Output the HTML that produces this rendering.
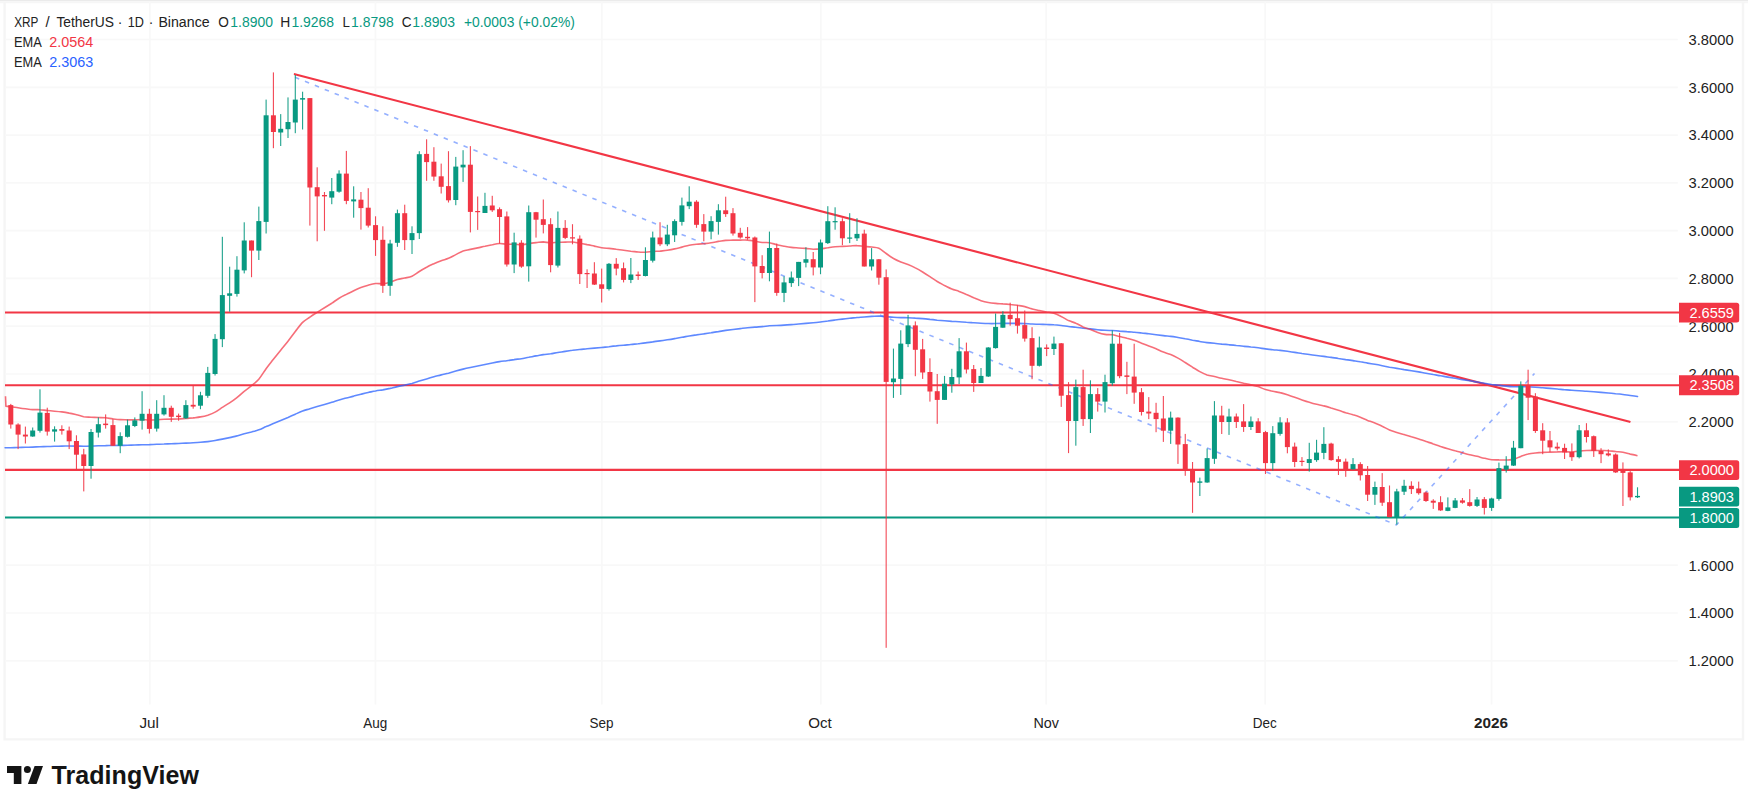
<!DOCTYPE html>
<html><head><meta charset="utf-8"><title>XRP / TetherUS</title>
<style>
html,body{margin:0;padding:0;background:#fff;}
body{width:1748px;height:803px;overflow:hidden;}
svg{display:block;}
text{font-family:"Liberation Sans","DejaVu Sans",sans-serif;}
.ax{font-size:15.3px;fill:#222222;}
.lg{font-size:14.9px;fill:#222222;}
.lb{font-size:14.8px;fill:#fff;}
</style></head><body>
<svg width="1748" height="803" viewBox="0 0 1748 803">
<rect width="1748" height="803" fill="#fff"/>

<rect x="0" y="0" width="1748" height="1.2" fill="#EBEBEB"/><rect x="0" y="1.2" width="1748" height="2" fill="#F6F6F6"/>
<path d="M4.6,2 V739.4 H1743 V2" fill="none" stroke="#F5F5F5" stroke-width="2.4"/>
<g stroke="#F8F8F8" stroke-width="1.7">
<line x1="5" y1="39.5" x2="1677.8" y2="39.5"/>
<line x1="5" y1="87.3" x2="1677.8" y2="87.3"/>
<line x1="5" y1="135.1" x2="1677.8" y2="135.1"/>
<line x1="5" y1="182.9" x2="1677.8" y2="182.9"/>
<line x1="5" y1="230.7" x2="1677.8" y2="230.7"/>
<line x1="5" y1="278.4" x2="1677.8" y2="278.4"/>
<line x1="5" y1="326.2" x2="1677.8" y2="326.2"/>
<line x1="5" y1="374.0" x2="1677.8" y2="374.0"/>
<line x1="5" y1="421.8" x2="1677.8" y2="421.8"/>
<line x1="5" y1="469.6" x2="1677.8" y2="469.6"/>
<line x1="5" y1="517.4" x2="1677.8" y2="517.4"/>
<line x1="5" y1="565.2" x2="1677.8" y2="565.2"/>
<line x1="5" y1="613.0" x2="1677.8" y2="613.0"/>
<line x1="5" y1="660.8" x2="1677.8" y2="660.8"/>
<line x1="149.8" y1="2" x2="149.8" y2="704.5"/>
<line x1="375.4" y1="2" x2="375.4" y2="704.5"/>
<line x1="601.8" y1="2" x2="601.8" y2="704.5"/>
<line x1="820.8" y1="2" x2="820.8" y2="704.5"/>
<line x1="1046.2" y1="2" x2="1046.2" y2="704.5"/>
<line x1="1265.2" y1="2" x2="1265.2" y2="704.5"/>
<line x1="1491.6" y1="2" x2="1491.6" y2="704.5"/>
</g>
<line x1="5" y1="312.50" x2="1679.5" y2="312.50" stroke="#F23645" stroke-width="2.1"/>
<line x1="5" y1="385.25" x2="1679.5" y2="385.25" stroke="#F23645" stroke-width="2.1"/>
<line x1="5" y1="469.90" x2="1679.5" y2="469.90" stroke="#F23645" stroke-width="2.1"/>
<line x1="5" y1="517.45" x2="1679.5" y2="517.45" stroke="#089981" stroke-width="2.1"/>
<path d="M295.0,77.3 L1396.4,524.9 L1534.5,373.5" fill="none" stroke="#2962FF" stroke-width="1.6" stroke-dasharray="4.5 6.2" opacity="0.5"/>
<line x1="294.8" y1="74.2" x2="1629.6" y2="421.8" stroke="#F23645" stroke-width="2.15" stroke-linecap="round"/>
<path d="M5.1,447.8 C6.0,447.8 8.6,447.7 10.8,447.7 C13.0,447.6 15.7,447.6 18.1,447.5 C20.5,447.4 23.0,447.4 25.4,447.3 C27.8,447.3 30.3,447.2 32.7,447.1 C35.1,447.0 37.5,446.8 40.0,446.7 C42.4,446.6 44.8,446.6 47.3,446.5 C49.7,446.5 52.1,446.4 54.6,446.3 C57.0,446.2 59.4,446.2 61.9,446.1 C64.3,446.1 66.7,446.0 69.2,446.0 C71.6,446.0 74.0,446.0 76.5,446.1 C78.9,446.1 81.3,446.2 83.7,446.2 C86.2,446.2 88.6,446.1 91.0,446.0 C93.5,446.0 95.9,445.9 98.3,445.8 C100.8,445.7 103.2,445.6 105.6,445.6 C108.1,445.5 110.5,445.6 112.9,445.5 C115.4,445.5 117.8,445.5 120.2,445.4 C122.7,445.4 125.1,445.3 127.5,445.3 C129.9,445.2 132.4,445.1 134.8,445.0 C137.2,444.9 139.7,444.8 142.1,444.7 C144.5,444.6 147.0,444.6 149.4,444.6 C151.8,444.5 154.3,444.4 156.7,444.3 C159.1,444.2 161.6,444.0 164.0,444.0 C166.4,443.9 168.9,443.8 171.3,443.7 C173.7,443.6 176.1,443.6 178.6,443.5 C181.0,443.4 183.4,443.2 185.9,443.1 C188.3,443.0 190.7,442.9 193.2,442.7 C195.6,442.6 198.0,442.5 200.5,442.3 C202.9,442.1 205.3,441.9 207.8,441.6 C210.2,441.3 212.6,441.0 215.1,440.5 C217.5,440.1 219.9,439.6 222.3,439.1 C224.8,438.6 227.2,438.1 229.6,437.6 C232.1,437.0 234.5,436.5 236.9,435.9 C239.4,435.2 241.8,434.5 244.2,433.8 C246.7,433.2 249.1,432.6 251.5,432.0 C254.0,431.3 256.4,430.7 258.8,429.8 C261.3,428.9 263.7,427.6 266.1,426.6 C268.5,425.5 271.0,424.5 273.4,423.5 C275.8,422.5 278.3,421.5 280.7,420.5 C283.1,419.5 285.6,418.5 288.0,417.5 C290.4,416.4 292.9,415.3 295.3,414.2 C297.7,413.1 300.2,411.9 302.6,411.0 C305.0,410.1 307.5,409.5 309.9,408.7 C312.3,408.0 314.7,407.3 317.2,406.6 C319.6,405.9 322.0,405.2 324.5,404.5 C326.9,403.8 329.3,403.1 331.8,402.3 C334.2,401.6 336.6,400.7 339.1,400.0 C341.5,399.3 343.9,398.7 346.4,398.0 C348.8,397.4 351.2,396.7 353.7,396.1 C356.1,395.4 358.5,394.8 360.9,394.2 C363.4,393.6 365.8,393.0 368.2,392.5 C370.7,392.0 373.1,391.4 375.5,391.0 C378.0,390.5 380.4,390.3 382.8,389.9 C385.3,389.4 387.7,388.9 390.1,388.4 C392.6,387.8 395.0,387.1 397.4,386.6 C399.9,386.0 402.3,385.6 404.7,385.1 C407.1,384.5 409.6,384.1 412.0,383.5 C414.4,382.8 416.9,381.9 419.3,381.1 C421.7,380.4 424.2,379.6 426.6,378.9 C429.0,378.2 431.5,377.5 433.9,376.8 C436.3,376.2 438.8,375.5 441.2,374.9 C443.6,374.3 446.1,373.8 448.5,373.2 C450.9,372.5 453.3,371.8 455.8,371.1 C458.2,370.4 460.6,369.7 463.1,369.1 C465.5,368.5 467.9,368.0 470.4,367.5 C472.8,367.0 475.2,366.5 477.7,366.0 C480.1,365.5 482.5,365.0 485.0,364.5 C487.4,364.0 489.8,363.5 492.3,363.0 C494.7,362.5 497.1,362.0 499.5,361.6 C502.0,361.2 504.4,361.0 506.8,360.7 C509.3,360.4 511.7,359.9 514.1,359.6 C516.6,359.2 519.0,359.1 521.4,358.7 C523.9,358.3 526.3,357.7 528.7,357.3 C531.2,356.8 533.6,356.4 536.0,355.9 C538.4,355.5 540.9,355.0 543.3,354.6 C545.7,354.3 548.2,354.1 550.6,353.8 C553.0,353.4 555.5,352.9 557.9,352.5 C560.3,352.1 562.8,351.8 565.2,351.4 C567.6,351.0 570.1,350.6 572.5,350.3 C574.9,349.9 577.4,349.7 579.8,349.5 C582.2,349.2 584.6,349.0 587.1,348.7 C589.5,348.5 591.9,348.3 594.4,348.1 C596.8,347.9 599.2,347.7 601.7,347.5 C604.1,347.3 606.5,346.9 609.0,346.7 C611.4,346.4 613.8,346.1 616.3,345.9 C618.7,345.6 621.1,345.4 623.6,345.2 C626.0,345.0 628.4,344.7 630.8,344.5 C633.3,344.3 635.7,344.0 638.1,343.8 C640.6,343.5 643.0,343.3 645.4,342.9 C647.9,342.6 650.3,342.2 652.7,341.9 C655.2,341.5 657.6,341.2 660.0,340.9 C662.5,340.6 664.9,340.2 667.3,339.8 C669.8,339.5 672.2,339.1 674.6,338.6 C677.0,338.2 679.5,337.8 681.9,337.3 C684.3,336.9 686.8,336.4 689.2,336.0 C691.6,335.6 694.1,335.2 696.5,334.9 C698.9,334.5 701.4,334.2 703.8,333.9 C706.2,333.5 708.7,333.1 711.1,332.8 C713.5,332.4 716.0,331.9 718.4,331.6 C720.8,331.2 723.2,330.8 725.7,330.4 C728.1,330.1 730.5,329.8 733.0,329.5 C735.4,329.2 737.8,328.9 740.3,328.6 C742.7,328.3 745.1,327.9 747.6,327.7 C750.0,327.5 752.4,327.3 754.9,327.1 C757.3,326.9 759.7,326.8 762.2,326.6 C764.6,326.4 767.0,326.0 769.4,325.8 C771.9,325.7 774.3,325.6 776.7,325.5 C779.2,325.4 781.6,325.3 784.0,325.1 C786.5,325.0 788.9,324.8 791.3,324.6 C793.8,324.5 796.2,324.2 798.6,324.0 C801.1,323.8 803.5,323.6 805.9,323.4 C808.4,323.2 810.8,323.0 813.2,322.8 C815.6,322.6 818.1,322.3 820.5,322.0 C822.9,321.7 825.4,321.3 827.8,321.0 C830.2,320.6 832.7,320.3 835.1,320.0 C837.5,319.7 840.0,319.4 842.4,319.1 C844.8,318.9 847.3,318.6 849.7,318.3 C852.1,318.1 854.6,317.7 857.0,317.5 C859.4,317.3 861.8,317.2 864.3,317.0 C866.7,316.8 869.1,316.6 871.6,316.4 C874.0,316.3 876.4,316.0 878.9,316.0 C881.3,316.1 883.7,316.5 886.2,316.7 C888.6,316.9 891.0,317.2 893.5,317.3 C895.9,317.5 898.3,317.6 900.8,317.6 C903.2,317.7 905.6,317.6 908.0,317.7 C910.5,317.8 912.9,317.9 915.3,318.1 C917.8,318.2 920.2,318.4 922.6,318.6 C925.1,318.8 927.5,319.1 929.9,319.4 C932.4,319.6 934.8,319.9 937.2,320.2 C939.7,320.4 942.1,320.6 944.5,320.8 C947.0,321.0 949.4,321.2 951.8,321.4 C954.2,321.5 956.7,321.6 959.1,321.7 C961.5,321.8 964.0,322.0 966.4,322.2 C968.8,322.3 971.3,322.6 973.7,322.8 C976.1,323.0 978.6,323.2 981.0,323.3 C983.4,323.4 985.9,323.5 988.3,323.5 C990.7,323.6 993.2,323.6 995.6,323.5 C998.0,323.5 1000.4,323.5 1002.9,323.4 C1005.3,323.4 1007.7,323.4 1010.2,323.4 C1012.6,323.4 1015.0,323.4 1017.5,323.4 C1019.9,323.4 1022.3,323.5 1024.8,323.6 C1027.2,323.7 1029.6,323.9 1032.1,324.0 C1034.5,324.1 1036.9,324.2 1039.4,324.2 C1041.8,324.3 1044.2,324.4 1046.6,324.5 C1049.1,324.6 1051.5,324.6 1053.9,324.8 C1056.4,324.9 1058.8,325.2 1061.2,325.5 C1063.7,325.8 1066.1,326.2 1068.5,326.5 C1071.0,326.8 1073.4,326.9 1075.8,327.2 C1078.3,327.5 1080.7,327.9 1083.1,328.2 C1085.6,328.5 1088.0,328.7 1090.4,328.9 C1092.8,329.2 1095.3,329.5 1097.7,329.7 C1100.1,330.0 1102.6,330.2 1105.0,330.3 C1107.4,330.5 1109.9,330.4 1112.3,330.5 C1114.7,330.7 1117.2,330.9 1119.6,331.1 C1122.0,331.2 1124.5,331.4 1126.9,331.6 C1129.3,331.7 1131.8,332.0 1134.2,332.2 C1136.6,332.4 1139.0,332.7 1141.5,333.0 C1143.9,333.3 1146.3,333.5 1148.8,333.8 C1151.2,334.1 1153.6,334.4 1156.1,334.7 C1158.5,335.0 1160.9,335.3 1163.4,335.6 C1165.8,335.9 1168.2,336.1 1170.7,336.4 C1173.1,336.7 1175.5,337.1 1178.0,337.5 C1180.4,337.9 1182.8,338.3 1185.2,338.8 C1187.7,339.2 1190.1,339.7 1192.5,340.2 C1195.0,340.6 1197.4,341.1 1199.8,341.5 C1202.3,341.9 1204.7,342.3 1207.1,342.6 C1209.6,342.9 1212.0,343.1 1214.4,343.3 C1216.9,343.6 1219.3,343.8 1221.7,344.1 C1224.2,344.3 1226.6,344.5 1229.0,344.8 C1231.4,345.0 1233.9,345.2 1236.3,345.5 C1238.7,345.7 1241.2,346.0 1243.6,346.3 C1246.0,346.5 1248.5,346.7 1250.9,347.0 C1253.3,347.2 1255.8,347.5 1258.2,347.8 C1260.6,348.1 1263.1,348.6 1265.5,348.9 C1267.9,349.2 1270.4,349.5 1272.8,349.7 C1275.2,350.0 1277.6,350.1 1280.1,350.4 C1282.5,350.7 1284.9,351.0 1287.4,351.3 C1289.8,351.7 1292.2,352.1 1294.7,352.4 C1297.1,352.8 1299.5,353.1 1302.0,353.5 C1304.4,353.8 1306.8,354.2 1309.3,354.5 C1311.7,354.9 1314.1,355.2 1316.6,355.5 C1319.0,355.8 1321.4,356.1 1323.8,356.4 C1326.3,356.7 1328.7,357.1 1331.1,357.4 C1333.6,357.8 1336.0,358.1 1338.4,358.5 C1340.9,358.8 1343.3,359.2 1345.7,359.6 C1348.2,359.9 1350.6,360.2 1353.0,360.6 C1355.5,361.0 1357.9,361.3 1360.3,361.8 C1362.8,362.2 1365.2,362.7 1367.6,363.1 C1370.0,363.5 1372.5,363.9 1374.9,364.3 C1377.3,364.7 1379.8,365.2 1382.2,365.7 C1384.6,366.2 1387.1,366.7 1389.5,367.2 C1391.9,367.6 1394.4,368.0 1396.8,368.4 C1399.2,368.8 1401.7,369.2 1404.1,369.6 C1406.5,369.9 1409.0,370.3 1411.4,370.7 C1413.8,371.1 1416.2,371.5 1418.7,371.9 C1421.1,372.3 1423.5,372.8 1426.0,373.2 C1428.4,373.6 1430.8,374.0 1433.3,374.5 C1435.7,374.9 1438.1,375.4 1440.6,375.8 C1443.0,376.2 1445.4,376.7 1447.9,377.1 C1450.3,377.5 1452.7,377.9 1455.2,378.3 C1457.6,378.7 1460.0,379.2 1462.4,379.6 C1464.9,380.0 1467.3,380.4 1469.7,380.8 C1472.2,381.3 1474.6,381.6 1477.0,382.0 C1479.5,382.4 1481.9,382.9 1484.3,383.3 C1486.8,383.7 1489.2,384.1 1491.6,384.5 C1494.1,384.8 1496.5,385.0 1498.9,385.3 C1501.4,385.6 1503.8,385.9 1506.2,386.1 C1508.6,386.4 1511.1,386.6 1513.5,386.7 C1515.9,386.8 1518.4,386.7 1520.8,386.7 C1523.2,386.8 1525.7,386.8 1528.1,386.8 C1530.5,386.9 1533.0,387.1 1535.4,387.3 C1537.8,387.5 1540.3,387.6 1542.7,387.8 C1545.1,388.0 1547.6,388.2 1550.0,388.4 C1552.4,388.6 1554.8,388.8 1557.3,389.0 C1559.7,389.2 1562.1,389.5 1564.6,389.7 C1567.0,389.9 1569.4,390.2 1571.9,390.3 C1574.3,390.5 1576.7,390.6 1579.2,390.7 C1581.6,390.9 1584.0,391.0 1586.5,391.2 C1588.9,391.4 1591.3,391.6 1593.7,391.8 C1596.2,392.0 1598.6,392.2 1601.0,392.4 C1603.5,392.6 1605.9,392.8 1608.3,393.0 C1610.8,393.2 1613.2,393.5 1615.6,393.8 C1618.1,394.0 1620.5,394.2 1622.9,394.5 C1625.4,394.8 1627.8,395.2 1630.2,395.5 C1632.7,395.8 1636.3,396.3 1637.5,396.5" fill="none" stroke="#2962FF" stroke-width="1.6" stroke-linejoin="round" stroke-linecap="round" opacity="0.75"/>
<path d="M5.5,396.3 L5.9,406.3 C6.7,406.4 8.8,406.4 10.8,406.7 C12.8,406.9 15.7,407.4 18.1,407.7 C20.5,408.1 23.0,408.5 25.4,408.8 C27.8,409.1 30.3,409.5 32.7,409.6 C35.1,409.8 37.5,409.5 40.0,409.7 C42.4,409.8 44.8,410.3 47.3,410.5 C49.7,410.8 52.1,411.0 54.6,411.2 C57.0,411.4 59.4,411.6 61.9,411.9 C64.3,412.2 66.7,412.6 69.2,413.1 C71.6,413.5 74.0,414.1 76.5,414.7 C78.9,415.3 81.3,416.2 83.7,416.7 C86.2,417.1 88.6,417.1 91.0,417.3 C93.5,417.4 95.9,417.4 98.3,417.5 C100.8,417.6 103.2,417.6 105.6,417.8 C108.1,418.1 110.5,418.6 112.9,418.9 C115.4,419.2 117.8,419.5 120.2,419.6 C122.7,419.8 125.1,419.8 127.5,419.9 C129.9,419.9 132.4,419.9 134.8,419.9 C137.2,419.8 139.7,419.6 142.1,419.6 C144.5,419.7 147.0,420.0 149.4,420.0 C151.8,420.0 154.3,419.9 156.7,419.7 C159.1,419.6 161.6,419.3 164.0,419.2 C166.4,419.1 168.9,419.1 171.3,419.1 C173.7,419.1 176.1,419.1 178.6,419.0 C181.0,418.9 183.4,418.6 185.9,418.4 C188.3,418.2 190.7,418.1 193.2,417.9 C195.6,417.6 198.0,417.4 200.5,416.9 C202.9,416.5 205.3,416.0 207.8,415.2 C210.2,414.3 212.6,413.4 215.1,412.1 C217.5,410.8 219.9,409.0 222.3,407.4 C224.8,405.9 227.2,404.5 229.6,402.9 C232.1,401.3 234.5,399.5 236.9,397.6 C239.4,395.7 241.8,393.3 244.2,391.3 C246.7,389.4 249.1,387.8 251.5,385.7 C254.0,383.7 256.4,382.0 258.8,379.2 C261.3,376.3 263.7,372.0 266.1,368.7 C268.5,365.4 271.0,362.4 273.4,359.3 C275.8,356.3 278.3,353.2 280.7,350.2 C283.1,347.2 285.6,344.3 288.0,341.2 C290.4,338.1 292.9,334.8 295.3,331.6 C297.7,328.5 300.2,324.8 302.6,322.4 C305.0,320.0 307.5,318.8 309.9,317.1 C312.3,315.4 314.7,313.9 317.2,312.3 C319.6,310.8 322.0,309.3 324.5,307.8 C326.9,306.3 329.3,304.8 331.8,303.2 C334.2,301.6 336.6,299.7 339.1,298.2 C341.5,296.7 343.9,295.6 346.4,294.4 C348.8,293.2 351.2,291.9 353.7,290.7 C356.1,289.6 358.5,288.5 360.9,287.6 C363.4,286.6 365.8,285.9 368.2,285.2 C370.7,284.5 373.1,283.8 375.5,283.5 C378.0,283.2 380.4,283.9 382.8,283.7 C385.3,283.4 387.7,282.9 390.1,282.2 C392.6,281.5 395.0,280.2 397.4,279.5 C399.9,278.8 402.3,278.6 404.7,278.0 C407.1,277.5 409.6,277.4 412.0,276.3 C414.4,275.2 416.9,273.0 419.3,271.5 C421.7,270.0 424.2,268.6 426.6,267.3 C429.0,265.9 431.5,264.8 433.9,263.7 C436.3,262.6 438.8,261.6 441.2,260.7 C443.6,259.8 446.1,259.3 448.5,258.3 C450.9,257.3 453.3,255.8 455.8,254.6 C458.2,253.4 460.6,251.9 463.1,251.0 C465.5,250.2 467.9,250.0 470.4,249.4 C472.8,248.9 475.2,248.4 477.7,247.9 C480.1,247.4 482.5,246.7 485.0,246.2 C487.4,245.6 489.8,245.1 492.3,244.7 C494.7,244.2 497.1,243.6 499.5,243.5 C502.0,243.4 504.4,244.2 506.8,244.3 C509.3,244.4 511.7,244.0 514.1,244.1 C516.6,244.2 519.0,245.0 521.4,244.9 C523.9,244.8 526.3,244.0 528.7,243.6 C531.2,243.2 533.6,242.9 536.0,242.6 C538.4,242.4 540.9,241.9 543.3,241.9 C545.7,242.0 548.2,242.8 550.6,242.8 C553.0,242.9 555.5,242.4 557.9,242.3 C560.3,242.2 562.8,242.2 565.2,242.1 C567.6,242.1 570.1,241.8 572.5,242.0 C574.9,242.2 577.4,242.9 579.8,243.3 C582.2,243.7 584.6,244.1 587.1,244.6 C589.5,245.0 591.9,245.6 594.4,246.1 C596.8,246.7 599.2,247.4 601.7,247.8 C604.1,248.2 606.5,248.2 609.0,248.4 C611.4,248.6 613.8,248.8 616.3,249.2 C618.7,249.5 621.1,250.0 623.6,250.3 C626.0,250.6 628.4,250.9 630.8,251.2 C633.3,251.4 635.7,251.8 638.1,252.0 C640.6,252.2 643.0,252.3 645.4,252.2 C647.9,252.1 650.3,251.7 652.7,251.5 C655.2,251.3 657.6,251.3 660.0,251.1 C662.5,250.8 664.9,250.6 667.3,250.2 C669.8,249.9 672.2,249.5 674.6,248.9 C677.0,248.4 679.5,247.7 681.9,247.1 C684.3,246.5 686.8,245.7 689.2,245.2 C691.6,244.7 694.1,244.5 696.5,244.3 C698.9,244.0 701.4,243.9 703.8,243.7 C706.2,243.4 708.7,243.1 711.1,242.7 C713.5,242.4 716.0,241.8 718.4,241.4 C720.8,241.1 723.2,240.6 725.7,240.4 C728.1,240.2 730.5,240.2 733.0,240.1 C735.4,240.1 737.8,240.1 740.3,240.1 C742.7,240.1 745.1,239.9 747.6,240.1 C750.0,240.2 752.4,240.8 754.9,241.2 C757.3,241.6 759.7,242.2 762.2,242.5 C764.6,242.7 767.0,242.3 769.4,242.7 C771.9,243.1 774.3,244.1 776.7,244.7 C779.2,245.3 781.6,245.8 784.0,246.2 C786.5,246.7 788.9,247.2 791.3,247.4 C793.8,247.7 796.2,247.8 798.6,248.0 C801.1,248.2 803.5,248.2 805.9,248.4 C808.4,248.6 810.8,249.1 813.2,249.2 C815.6,249.2 818.1,249.1 820.5,248.9 C822.9,248.6 825.4,248.1 827.8,247.8 C830.2,247.4 832.7,246.9 835.1,246.7 C837.5,246.5 840.0,246.5 842.4,246.4 C844.8,246.3 847.3,246.2 849.7,246.0 C852.1,245.9 854.6,245.5 857.0,245.6 C859.4,245.6 861.8,246.2 864.3,246.4 C866.7,246.6 869.1,246.7 871.6,247.0 C874.0,247.3 876.4,247.1 878.9,248.2 C881.3,249.3 883.7,251.8 886.2,253.5 C888.6,255.3 891.0,257.1 893.5,258.5 C895.9,259.9 898.3,260.9 900.8,261.9 C903.2,262.9 905.6,263.5 908.0,264.5 C910.5,265.5 912.9,266.6 915.3,267.9 C917.8,269.1 920.2,270.5 922.6,272.0 C925.1,273.5 927.5,275.1 929.9,276.7 C932.4,278.3 934.8,280.0 937.2,281.5 C939.7,283.0 942.1,284.2 944.5,285.5 C947.0,286.7 949.4,288.0 951.8,289.0 C954.2,290.0 956.7,290.5 959.1,291.4 C961.5,292.3 964.0,293.3 966.4,294.4 C968.8,295.4 971.3,296.7 973.7,297.8 C976.1,298.8 978.6,300.0 981.0,300.7 C983.4,301.5 985.9,302.1 988.3,302.5 C990.7,303.0 993.2,303.2 995.6,303.4 C998.0,303.7 1000.4,303.7 1002.9,303.9 C1005.3,304.0 1007.7,304.2 1010.2,304.5 C1012.6,304.7 1015.0,304.9 1017.5,305.3 C1019.9,305.7 1022.3,306.0 1024.8,306.6 C1027.2,307.2 1029.6,308.3 1032.1,308.9 C1034.5,309.6 1036.9,310.0 1039.4,310.5 C1041.8,311.0 1044.2,311.5 1046.6,312.0 C1049.1,312.4 1051.5,312.5 1053.9,313.2 C1056.4,314.0 1058.8,315.2 1061.2,316.5 C1063.7,317.7 1066.1,319.4 1068.5,320.6 C1071.0,321.7 1073.4,322.1 1075.8,323.2 C1078.3,324.2 1080.7,325.9 1083.1,327.0 C1085.6,328.0 1088.0,328.7 1090.4,329.6 C1092.8,330.5 1095.3,331.7 1097.7,332.5 C1100.1,333.3 1102.6,334.0 1105.0,334.4 C1107.4,334.8 1109.9,334.5 1112.3,334.8 C1114.7,335.2 1117.2,336.0 1119.6,336.5 C1122.0,337.1 1124.5,337.5 1126.9,338.2 C1129.3,338.8 1131.8,339.5 1134.2,340.3 C1136.6,341.2 1139.0,342.2 1141.5,343.2 C1143.9,344.1 1146.3,345.0 1148.8,346.0 C1151.2,346.9 1153.6,347.8 1156.1,348.8 C1158.5,349.9 1160.9,351.1 1163.4,352.1 C1165.8,353.0 1168.2,353.6 1170.7,354.6 C1173.1,355.6 1175.5,356.8 1178.0,358.1 C1180.4,359.4 1182.8,361.0 1185.2,362.5 C1187.7,364.0 1190.1,365.6 1192.5,367.2 C1195.0,368.7 1197.4,370.3 1199.8,371.6 C1202.3,372.9 1204.7,374.1 1207.1,375.0 C1209.6,375.8 1212.0,376.0 1214.4,376.5 C1216.9,377.1 1219.3,377.8 1221.7,378.3 C1224.2,378.9 1226.6,379.3 1229.0,379.8 C1231.4,380.3 1233.9,380.9 1236.3,381.5 C1238.7,382.0 1241.2,382.7 1243.6,383.3 C1246.0,383.8 1248.5,384.2 1250.9,384.8 C1253.3,385.3 1255.8,385.8 1258.2,386.6 C1260.6,387.5 1263.1,388.9 1265.5,389.6 C1267.9,390.4 1270.4,390.9 1272.8,391.3 C1275.2,391.8 1277.6,392.0 1280.1,392.6 C1282.5,393.1 1284.9,393.9 1287.4,394.7 C1289.8,395.5 1292.2,396.5 1294.7,397.3 C1297.1,398.2 1299.5,399.1 1302.0,399.9 C1304.4,400.7 1306.8,401.5 1309.3,402.2 C1311.7,403.0 1314.1,403.7 1316.6,404.3 C1319.0,404.9 1321.4,405.2 1323.8,405.9 C1326.3,406.5 1328.7,407.3 1331.1,408.1 C1333.6,408.8 1336.0,409.5 1338.4,410.2 C1340.9,411.0 1343.3,411.9 1345.7,412.7 C1348.2,413.4 1350.6,414.0 1353.0,414.8 C1355.5,415.5 1357.9,416.3 1360.3,417.2 C1362.8,418.2 1365.2,419.4 1367.6,420.4 C1370.0,421.3 1372.5,422.1 1374.9,423.1 C1377.3,424.1 1379.8,425.1 1382.2,426.3 C1384.6,427.4 1387.1,428.9 1389.5,429.9 C1391.9,431.0 1394.4,431.6 1396.8,432.4 C1399.2,433.2 1401.7,433.9 1404.1,434.6 C1406.5,435.3 1409.0,436.0 1411.4,436.8 C1413.8,437.5 1416.2,438.2 1418.7,439.0 C1421.1,439.8 1423.5,440.7 1426.0,441.5 C1428.4,442.3 1430.8,443.0 1433.3,443.9 C1435.7,444.7 1438.1,445.6 1440.6,446.5 C1443.0,447.3 1445.4,448.1 1447.9,448.8 C1450.3,449.5 1452.7,450.1 1455.2,450.8 C1457.6,451.4 1460.0,452.1 1462.4,452.7 C1464.9,453.4 1467.3,454.1 1469.7,454.7 C1472.2,455.3 1474.6,455.7 1477.0,456.3 C1479.5,456.9 1481.9,457.7 1484.3,458.2 C1486.8,458.8 1489.2,459.4 1491.6,459.7 C1494.1,459.9 1496.5,459.8 1498.9,459.9 C1501.4,459.9 1503.8,460.0 1506.2,460.0 C1508.6,459.9 1511.1,460.0 1513.5,459.4 C1515.9,458.8 1518.4,457.3 1520.8,456.4 C1523.2,455.5 1525.7,454.5 1528.1,454.0 C1530.5,453.4 1533.0,453.2 1535.4,453.0 C1537.8,452.7 1540.3,452.5 1542.7,452.4 C1545.1,452.2 1547.6,452.2 1550.0,452.1 C1552.4,452.0 1554.8,451.9 1557.3,451.9 C1559.7,451.8 1562.1,451.8 1564.6,451.8 C1567.0,451.8 1569.4,452.1 1571.9,452.0 C1574.3,451.8 1576.7,451.3 1579.2,451.1 C1581.6,450.8 1584.0,450.6 1586.5,450.5 C1588.9,450.4 1591.3,450.4 1593.7,450.4 C1596.2,450.4 1598.6,450.5 1601.0,450.5 C1603.5,450.6 1605.9,450.5 1608.3,450.7 C1610.8,450.9 1613.2,451.3 1615.6,451.5 C1618.1,451.8 1620.5,451.9 1622.9,452.3 C1625.4,452.8 1627.8,453.5 1630.2,454.1 C1632.7,454.6 1636.3,455.4 1637.5,455.7" fill="none" stroke="#F23645" stroke-width="1.6" stroke-linejoin="round" opacity="0.72"/>
<g opacity="0.9"><rect x="10.25" y="403.9" width="1.1" height="24.7" fill="#F23645"/><rect x="17.54" y="423.3" width="1.1" height="25.8" fill="#F23645"/><rect x="24.84" y="426.6" width="1.1" height="16.9" fill="#F23645"/><rect x="32.13" y="427.5" width="1.1" height="9.3" fill="#089981"/><rect x="39.43" y="389.3" width="1.1" height="43.3" fill="#089981"/><rect x="46.72" y="407.7" width="1.1" height="27.9" fill="#F23645"/><rect x="54.02" y="426.3" width="1.1" height="15.3" fill="#089981"/><rect x="61.31" y="425.3" width="1.1" height="9.3" fill="#F23645"/><rect x="68.61" y="426.6" width="1.1" height="22.5" fill="#F23645"/><rect x="75.90" y="435.3" width="1.1" height="34.4" fill="#F23645"/><rect x="83.20" y="448.8" width="1.1" height="42.6" fill="#F23645"/><rect x="90.49" y="429.0" width="1.1" height="49.7" fill="#089981"/><rect x="97.79" y="417.4" width="1.1" height="20.1" fill="#089981"/><rect x="105.08" y="414.4" width="1.1" height="14.2" fill="#F23645"/><rect x="112.38" y="419.2" width="1.1" height="26.6" fill="#F23645"/><rect x="119.67" y="432.3" width="1.1" height="20.9" fill="#089981"/><rect x="126.97" y="419.6" width="1.1" height="17.9" fill="#089981"/><rect x="134.26" y="417.4" width="1.1" height="9.7" fill="#089981"/><rect x="141.55" y="391.2" width="1.1" height="38.4" fill="#089981"/><rect x="148.85" y="408.8" width="1.1" height="24.7" fill="#F23645"/><rect x="156.14" y="400.2" width="1.1" height="31.4" fill="#089981"/><rect x="163.44" y="395.2" width="1.1" height="20.4" fill="#089981"/><rect x="170.73" y="405.7" width="1.1" height="16.2" fill="#F23645"/><rect x="178.03" y="413.6" width="1.1" height="7.1" fill="#F23645"/><rect x="185.32" y="400.2" width="1.1" height="18.7" fill="#089981"/><rect x="192.62" y="385.7" width="1.1" height="23.0" fill="#F23645"/><rect x="199.91" y="391.8" width="1.1" height="17.4" fill="#089981"/><rect x="207.21" y="366.9" width="1.1" height="30.9" fill="#089981"/><rect x="214.50" y="334.1" width="1.1" height="41.4" fill="#089981"/><rect x="221.80" y="236.8" width="1.1" height="110.3" fill="#089981"/><rect x="229.09" y="266.7" width="1.1" height="45.0" fill="#089981"/><rect x="236.39" y="256.2" width="1.1" height="40.4" fill="#089981"/><rect x="243.68" y="222.3" width="1.1" height="51.1" fill="#089981"/><rect x="250.98" y="240.5" width="1.1" height="36.7" fill="#F23645"/><rect x="258.27" y="206.6" width="1.1" height="53.4" fill="#089981"/><rect x="265.56" y="99.6" width="1.1" height="133.9" fill="#089981"/><rect x="272.86" y="72.4" width="1.1" height="75.8" fill="#F23645"/><rect x="280.15" y="114.1" width="1.1" height="31.9" fill="#089981"/><rect x="287.45" y="97.4" width="1.1" height="40.6" fill="#089981"/><rect x="294.74" y="75.0" width="1.1" height="58.2" fill="#089981"/><rect x="302.04" y="91.7" width="1.1" height="37.8" fill="#089981"/><rect x="309.33" y="98.1" width="1.1" height="127.5" fill="#F23645"/><rect x="316.63" y="167.3" width="1.1" height="74.0" fill="#F23645"/><rect x="323.92" y="192.0" width="1.1" height="38.8" fill="#F23645"/><rect x="331.22" y="178.0" width="1.1" height="26.2" fill="#089981"/><rect x="338.51" y="170.3" width="1.1" height="22.4" fill="#089981"/><rect x="345.81" y="150.9" width="1.1" height="53.3" fill="#F23645"/><rect x="353.10" y="186.3" width="1.1" height="31.4" fill="#089981"/><rect x="360.40" y="192.0" width="1.1" height="37.6" fill="#F23645"/><rect x="367.69" y="188.2" width="1.1" height="39.3" fill="#F23645"/><rect x="374.99" y="216.3" width="1.1" height="39.6" fill="#F23645"/><rect x="382.28" y="226.3" width="1.1" height="66.6" fill="#F23645"/><rect x="389.57" y="239.8" width="1.1" height="56.0" fill="#089981"/><rect x="396.87" y="209.6" width="1.1" height="37.2" fill="#089981"/><rect x="404.16" y="204.7" width="1.1" height="45.3" fill="#F23645"/><rect x="411.46" y="226.3" width="1.1" height="27.7" fill="#089981"/><rect x="418.75" y="151.2" width="1.1" height="87.8" fill="#089981"/><rect x="426.05" y="139.3" width="1.1" height="41.5" fill="#F23645"/><rect x="433.34" y="147.2" width="1.1" height="33.6" fill="#F23645"/><rect x="440.64" y="163.6" width="1.1" height="29.9" fill="#F23645"/><rect x="447.93" y="151.2" width="1.1" height="51.3" fill="#F23645"/><rect x="455.23" y="156.9" width="1.1" height="48.3" fill="#089981"/><rect x="462.52" y="150.2" width="1.1" height="31.7" fill="#089981"/><rect x="469.82" y="146.1" width="1.1" height="86.3" fill="#F23645"/><rect x="477.11" y="196.5" width="1.1" height="33.4" fill="#F23645"/><rect x="484.41" y="192.8" width="1.1" height="20.2" fill="#089981"/><rect x="491.70" y="195.8" width="1.1" height="16.1" fill="#F23645"/><rect x="498.99" y="207.4" width="1.1" height="36.2" fill="#F23645"/><rect x="506.29" y="211.5" width="1.1" height="55.1" fill="#F23645"/><rect x="513.58" y="232.7" width="1.1" height="40.4" fill="#089981"/><rect x="520.88" y="240.2" width="1.1" height="27.6" fill="#F23645"/><rect x="528.17" y="205.5" width="1.1" height="76.1" fill="#089981"/><rect x="535.47" y="211.9" width="1.1" height="25.7" fill="#F23645"/><rect x="542.76" y="199.5" width="1.1" height="33.9" fill="#F23645"/><rect x="550.06" y="218.2" width="1.1" height="54.1" fill="#F23645"/><rect x="557.35" y="211.5" width="1.1" height="56.0" fill="#089981"/><rect x="564.65" y="220.1" width="1.1" height="19.0" fill="#F23645"/><rect x="571.94" y="224.2" width="1.1" height="20.1" fill="#F23645"/><rect x="579.24" y="235.4" width="1.1" height="48.6" fill="#F23645"/><rect x="586.53" y="269.3" width="1.1" height="18.7" fill="#F23645"/><rect x="593.83" y="262.2" width="1.1" height="22.8" fill="#F23645"/><rect x="601.12" y="268.6" width="1.1" height="33.9" fill="#F23645"/><rect x="608.42" y="263.0" width="1.1" height="27.6" fill="#089981"/><rect x="615.71" y="258.1" width="1.1" height="17.2" fill="#F23645"/><rect x="623.00" y="262.5" width="1.1" height="19.9" fill="#F23645"/><rect x="630.30" y="258.0" width="1.1" height="25.1" fill="#089981"/><rect x="637.59" y="271.5" width="1.1" height="8.4" fill="#F23645"/><rect x="644.89" y="247.3" width="1.1" height="29.1" fill="#089981"/><rect x="652.18" y="231.6" width="1.1" height="30.9" fill="#089981"/><rect x="659.48" y="222.2" width="1.1" height="23.9" fill="#F23645"/><rect x="666.77" y="224.8" width="1.1" height="21.3" fill="#089981"/><rect x="674.07" y="219.3" width="1.1" height="22.7" fill="#089981"/><rect x="681.36" y="197.6" width="1.1" height="28.0" fill="#089981"/><rect x="688.66" y="186.3" width="1.1" height="22.8" fill="#089981"/><rect x="695.95" y="200.2" width="1.1" height="27.6" fill="#F23645"/><rect x="703.25" y="214.1" width="1.1" height="27.2" fill="#F23645"/><rect x="710.54" y="216.2" width="1.1" height="23.1" fill="#089981"/><rect x="717.84" y="204.2" width="1.1" height="30.4" fill="#089981"/><rect x="725.13" y="196.7" width="1.1" height="20.2" fill="#F23645"/><rect x="732.43" y="208.1" width="1.1" height="27.5" fill="#F23645"/><rect x="739.72" y="227.8" width="1.1" height="10.8" fill="#F23645"/><rect x="747.01" y="227.1" width="1.1" height="12.7" fill="#F23645"/><rect x="754.31" y="236.5" width="1.1" height="65.6" fill="#F23645"/><rect x="761.60" y="255.2" width="1.1" height="23.2" fill="#F23645"/><rect x="768.90" y="231.6" width="1.1" height="49.7" fill="#089981"/><rect x="776.19" y="243.5" width="1.1" height="52.3" fill="#F23645"/><rect x="783.49" y="276.4" width="1.1" height="25.7" fill="#089981"/><rect x="790.78" y="271.5" width="1.1" height="15.4" fill="#089981"/><rect x="798.08" y="261.9" width="1.1" height="24.2" fill="#089981"/><rect x="805.37" y="247.3" width="1.1" height="20.1" fill="#089981"/><rect x="812.67" y="252.0" width="1.1" height="23.4" fill="#F23645"/><rect x="819.96" y="239.5" width="1.1" height="34.7" fill="#089981"/><rect x="827.26" y="206.2" width="1.1" height="37.8" fill="#089981"/><rect x="834.55" y="207.3" width="1.1" height="22.4" fill="#089981"/><rect x="841.85" y="218.2" width="1.1" height="26.9" fill="#F23645"/><rect x="849.14" y="213.2" width="1.1" height="29.9" fill="#089981"/><rect x="856.44" y="218.2" width="1.1" height="22.8" fill="#089981"/><rect x="863.73" y="229.7" width="1.1" height="36.8" fill="#F23645"/><rect x="871.02" y="248.1" width="1.1" height="22.4" fill="#089981"/><rect x="878.32" y="259.0" width="1.1" height="25.7" fill="#F23645"/><rect x="885.61" y="269.4" width="1.1" height="378.4" fill="#F23645"/><rect x="892.91" y="348.6" width="1.1" height="49.3" fill="#089981"/><rect x="900.20" y="330.3" width="1.1" height="64.6" fill="#089981"/><rect x="907.50" y="314.9" width="1.1" height="32.2" fill="#089981"/><rect x="914.79" y="321.4" width="1.1" height="54.8" fill="#F23645"/><rect x="922.09" y="338.9" width="1.1" height="40.0" fill="#F23645"/><rect x="929.38" y="358.3" width="1.1" height="43.3" fill="#F23645"/><rect x="936.68" y="374.0" width="1.1" height="49.8" fill="#F23645"/><rect x="943.97" y="375.9" width="1.1" height="24.0" fill="#089981"/><rect x="951.27" y="368.8" width="1.1" height="23.9" fill="#089981"/><rect x="958.56" y="338.1" width="1.1" height="45.9" fill="#089981"/><rect x="965.86" y="342.6" width="1.1" height="30.9" fill="#F23645"/><rect x="973.15" y="365.0" width="1.1" height="26.9" fill="#F23645"/><rect x="980.45" y="368.0" width="1.1" height="15.0" fill="#089981"/><rect x="987.74" y="347.1" width="1.1" height="29.9" fill="#089981"/><rect x="995.03" y="313.5" width="1.1" height="35.1" fill="#089981"/><rect x="1002.33" y="311.2" width="1.1" height="16.5" fill="#089981"/><rect x="1009.62" y="302.7" width="1.1" height="23.0" fill="#F23645"/><rect x="1016.92" y="305.2" width="1.1" height="28.4" fill="#F23645"/><rect x="1024.21" y="310.5" width="1.1" height="31.1" fill="#F23645"/><rect x="1031.51" y="327.2" width="1.1" height="52.0" fill="#F23645"/><rect x="1038.80" y="336.6" width="1.1" height="29.9" fill="#089981"/><rect x="1046.10" y="344.4" width="1.1" height="11.7" fill="#F23645"/><rect x="1053.39" y="336.6" width="1.1" height="18.4" fill="#089981"/><rect x="1060.69" y="343.0" width="1.1" height="63.9" fill="#F23645"/><rect x="1067.98" y="382.1" width="1.1" height="71.0" fill="#F23645"/><rect x="1075.28" y="379.6" width="1.1" height="66.1" fill="#089981"/><rect x="1082.57" y="369.7" width="1.1" height="56.2" fill="#F23645"/><rect x="1089.87" y="380.3" width="1.1" height="52.7" fill="#089981"/><rect x="1097.16" y="388.1" width="1.1" height="23.5" fill="#F23645"/><rect x="1104.45" y="374.7" width="1.1" height="37.8" fill="#089981"/><rect x="1111.75" y="330.4" width="1.1" height="55.3" fill="#089981"/><rect x="1119.04" y="332.9" width="1.1" height="45.3" fill="#F23645"/><rect x="1126.34" y="361.8" width="1.1" height="32.3" fill="#F23645"/><rect x="1133.63" y="343.7" width="1.1" height="60.1" fill="#F23645"/><rect x="1140.93" y="388.1" width="1.1" height="27.4" fill="#F23645"/><rect x="1148.22" y="397.1" width="1.1" height="22.0" fill="#F23645"/><rect x="1155.52" y="402.8" width="1.1" height="29.4" fill="#F23645"/><rect x="1162.81" y="396.0" width="1.1" height="45.9" fill="#F23645"/><rect x="1170.11" y="411.6" width="1.1" height="32.3" fill="#089981"/><rect x="1177.40" y="417.3" width="1.1" height="46.6" fill="#F23645"/><rect x="1184.70" y="433.9" width="1.1" height="41.9" fill="#F23645"/><rect x="1191.99" y="462.0" width="1.1" height="50.8" fill="#F23645"/><rect x="1199.29" y="477.6" width="1.1" height="18.4" fill="#089981"/><rect x="1206.58" y="448.6" width="1.1" height="34.2" fill="#089981"/><rect x="1213.88" y="401.1" width="1.1" height="62.8" fill="#089981"/><rect x="1221.17" y="405.8" width="1.1" height="28.2" fill="#F23645"/><rect x="1228.46" y="408.7" width="1.1" height="26.2" fill="#089981"/><rect x="1235.76" y="413.5" width="1.1" height="14.5" fill="#F23645"/><rect x="1243.05" y="404.1" width="1.1" height="27.8" fill="#F23645"/><rect x="1250.35" y="416.5" width="1.1" height="13.5" fill="#089981"/><rect x="1257.64" y="418.2" width="1.1" height="14.5" fill="#F23645"/><rect x="1264.94" y="430.9" width="1.1" height="43.1" fill="#F23645"/><rect x="1272.23" y="426.1" width="1.1" height="44.4" fill="#089981"/><rect x="1279.53" y="417.2" width="1.1" height="18.5" fill="#089981"/><rect x="1286.82" y="418.2" width="1.1" height="35.1" fill="#F23645"/><rect x="1294.12" y="442.6" width="1.1" height="24.5" fill="#F23645"/><rect x="1301.41" y="457.1" width="1.1" height="9.0" fill="#F23645"/><rect x="1308.71" y="442.8" width="1.1" height="28.8" fill="#089981"/><rect x="1316.00" y="439.8" width="1.1" height="22.0" fill="#089981"/><rect x="1323.30" y="427.2" width="1.1" height="32.0" fill="#089981"/><rect x="1330.59" y="442.7" width="1.1" height="18.0" fill="#F23645"/><rect x="1337.89" y="456.2" width="1.1" height="18.8" fill="#F23645"/><rect x="1345.18" y="458.6" width="1.1" height="18.2" fill="#F23645"/><rect x="1352.47" y="458.1" width="1.1" height="11.2" fill="#089981"/><rect x="1359.77" y="462.2" width="1.1" height="18.3" fill="#F23645"/><rect x="1367.06" y="466.0" width="1.1" height="35.0" fill="#F23645"/><rect x="1374.36" y="481.6" width="1.1" height="23.3" fill="#089981"/><rect x="1381.65" y="473.1" width="1.1" height="32.8" fill="#F23645"/><rect x="1388.95" y="485.5" width="1.1" height="31.7" fill="#F23645"/><rect x="1396.24" y="488.8" width="1.1" height="35.8" fill="#089981"/><rect x="1403.54" y="479.8" width="1.1" height="15.2" fill="#089981"/><rect x="1410.83" y="481.3" width="1.1" height="12.7" fill="#F23645"/><rect x="1418.13" y="481.6" width="1.1" height="13.1" fill="#F23645"/><rect x="1425.42" y="491.4" width="1.1" height="10.5" fill="#F23645"/><rect x="1432.72" y="499.2" width="1.1" height="9.7" fill="#F23645"/><rect x="1440.01" y="496.2" width="1.1" height="14.7" fill="#F23645"/><rect x="1447.31" y="497.4" width="1.1" height="13.8" fill="#089981"/><rect x="1454.60" y="498.0" width="1.1" height="10.2" fill="#089981"/><rect x="1461.90" y="498.0" width="1.1" height="5.7" fill="#F23645"/><rect x="1469.19" y="489.1" width="1.1" height="17.6" fill="#F23645"/><rect x="1476.48" y="497.0" width="1.1" height="10.0" fill="#089981"/><rect x="1483.78" y="497.0" width="1.1" height="17.5" fill="#F23645"/><rect x="1491.07" y="497.7" width="1.1" height="13.2" fill="#089981"/><rect x="1498.37" y="462.6" width="1.1" height="38.1" fill="#089981"/><rect x="1505.66" y="456.2" width="1.1" height="16.4" fill="#089981"/><rect x="1512.96" y="440.9" width="1.1" height="25.1" fill="#089981"/><rect x="1520.25" y="381.4" width="1.1" height="66.8" fill="#089981"/><rect x="1527.55" y="369.7" width="1.1" height="50.4" fill="#F23645"/><rect x="1534.84" y="393.2" width="1.1" height="39.7" fill="#F23645"/><rect x="1542.14" y="423.2" width="1.1" height="31.0" fill="#F23645"/><rect x="1549.43" y="431.0" width="1.1" height="20.9" fill="#F23645"/><rect x="1556.73" y="442.5" width="1.1" height="7.9" fill="#F23645"/><rect x="1564.02" y="443.7" width="1.1" height="15.3" fill="#F23645"/><rect x="1571.32" y="443.4" width="1.1" height="17.5" fill="#F23645"/><rect x="1578.61" y="425.0" width="1.1" height="33.4" fill="#089981"/><rect x="1585.91" y="423.2" width="1.1" height="19.3" fill="#F23645"/><rect x="1593.20" y="435.5" width="1.1" height="21.4" fill="#F23645"/><rect x="1600.49" y="448.2" width="1.1" height="14.9" fill="#F23645"/><rect x="1607.79" y="449.4" width="1.1" height="7.0" fill="#F23645"/><rect x="1615.08" y="453.4" width="1.1" height="19.5" fill="#F23645"/><rect x="1622.38" y="462.4" width="1.1" height="43.6" fill="#F23645"/><rect x="1629.67" y="471.1" width="1.1" height="29.4" fill="#F23645"/><rect x="1636.97" y="487.3" width="1.1" height="10.7" fill="#089981"/></g>
<g><rect x="8.30" y="405.1" width="5" height="19.4" fill="#F23645"/><rect x="15.59" y="424.5" width="5" height="10.1" fill="#F23645"/><rect x="22.89" y="434.6" width="5" height="1.9" fill="#F23645"/><rect x="30.18" y="430.5" width="5" height="6.0" fill="#089981"/><rect x="37.48" y="412.6" width="5" height="18.2" fill="#089981"/><rect x="44.77" y="412.9" width="5" height="18.7" fill="#F23645"/><rect x="52.07" y="429.3" width="5" height="2.3" fill="#089981"/><rect x="59.36" y="429.0" width="5" height="1.8" fill="#F23645"/><rect x="66.66" y="430.5" width="5" height="10.8" fill="#F23645"/><rect x="73.95" y="441.0" width="5" height="13.7" fill="#F23645"/><rect x="81.25" y="454.4" width="5" height="11.6" fill="#F23645"/><rect x="88.54" y="432.0" width="5" height="34.0" fill="#089981"/><rect x="95.84" y="424.2" width="5" height="8.4" fill="#089981"/><rect x="103.13" y="423.6" width="5" height="1.5" fill="#F23645"/><rect x="110.43" y="425.1" width="5" height="20.7" fill="#F23645"/><rect x="117.72" y="436.1" width="5" height="9.7" fill="#089981"/><rect x="125.02" y="425.3" width="5" height="11.5" fill="#089981"/><rect x="132.31" y="420.4" width="5" height="5.6" fill="#089981"/><rect x="139.60" y="413.8" width="5" height="6.9" fill="#089981"/><rect x="146.90" y="413.8" width="5" height="15.1" fill="#F23645"/><rect x="154.19" y="413.8" width="5" height="14.8" fill="#089981"/><rect x="161.49" y="407.8" width="5" height="6.6" fill="#089981"/><rect x="168.78" y="407.8" width="5" height="9.0" fill="#F23645"/><rect x="176.08" y="415.6" width="5" height="1.5" fill="#F23645"/><rect x="183.37" y="405.1" width="5" height="13.2" fill="#089981"/><rect x="190.67" y="404.8" width="5" height="1.8" fill="#F23645"/><rect x="197.96" y="395.3" width="5" height="10.4" fill="#089981"/><rect x="205.26" y="372.9" width="5" height="22.9" fill="#089981"/><rect x="212.55" y="338.9" width="5" height="35.1" fill="#089981"/><rect x="219.85" y="295.1" width="5" height="44.1" fill="#089981"/><rect x="227.14" y="293.3" width="5" height="2.5" fill="#089981"/><rect x="234.44" y="269.7" width="5" height="24.2" fill="#089981"/><rect x="241.73" y="240.5" width="5" height="29.9" fill="#089981"/><rect x="249.03" y="240.5" width="5" height="10.1" fill="#F23645"/><rect x="256.32" y="221.1" width="5" height="29.5" fill="#089981"/><rect x="263.61" y="115.3" width="5" height="106.6" fill="#089981"/><rect x="270.91" y="115.3" width="5" height="16.7" fill="#F23645"/><rect x="278.20" y="128.8" width="5" height="3.7" fill="#089981"/><rect x="285.50" y="122.0" width="5" height="7.2" fill="#089981"/><rect x="292.79" y="99.6" width="5" height="22.9" fill="#089981"/><rect x="300.09" y="98.1" width="5" height="1.5" fill="#089981"/><rect x="307.38" y="98.1" width="5" height="89.4" fill="#F23645"/><rect x="314.68" y="187.2" width="5" height="9.2" fill="#F23645"/><rect x="321.97" y="195.0" width="5" height="1.4" fill="#F23645"/><rect x="329.27" y="191.2" width="5" height="6.4" fill="#089981"/><rect x="336.56" y="173.6" width="5" height="18.1" fill="#089981"/><rect x="343.86" y="173.6" width="5" height="27.3" fill="#F23645"/><rect x="351.15" y="199.4" width="5" height="2.0" fill="#089981"/><rect x="358.45" y="199.7" width="5" height="8.4" fill="#F23645"/><rect x="365.74" y="207.7" width="5" height="17.9" fill="#F23645"/><rect x="373.04" y="225.1" width="5" height="15.0" fill="#F23645"/><rect x="380.33" y="239.8" width="5" height="46.0" fill="#F23645"/><rect x="387.62" y="243.5" width="5" height="42.3" fill="#089981"/><rect x="394.92" y="213.2" width="5" height="29.6" fill="#089981"/><rect x="402.21" y="213.2" width="5" height="26.9" fill="#F23645"/><rect x="409.51" y="233.1" width="5" height="7.0" fill="#089981"/><rect x="416.80" y="154.2" width="5" height="78.9" fill="#089981"/><rect x="424.10" y="153.9" width="5" height="8.2" fill="#F23645"/><rect x="431.39" y="161.7" width="5" height="14.9" fill="#F23645"/><rect x="438.69" y="176.3" width="5" height="10.5" fill="#F23645"/><rect x="445.98" y="186.1" width="5" height="14.2" fill="#F23645"/><rect x="453.28" y="166.6" width="5" height="33.4" fill="#089981"/><rect x="460.57" y="164.7" width="5" height="2.7" fill="#089981"/><rect x="467.87" y="164.7" width="5" height="47.2" fill="#F23645"/><rect x="475.16" y="211.0" width="5" height="1.2" fill="#F23645"/><rect x="482.46" y="205.9" width="5" height="7.1" fill="#089981"/><rect x="489.75" y="205.5" width="5" height="4.8" fill="#F23645"/><rect x="497.04" y="209.2" width="5" height="7.8" fill="#F23645"/><rect x="504.34" y="216.4" width="5" height="48.1" fill="#F23645"/><rect x="511.63" y="242.4" width="5" height="22.1" fill="#089981"/><rect x="518.93" y="242.7" width="5" height="23.9" fill="#F23645"/><rect x="526.22" y="212.2" width="5" height="54.1" fill="#089981"/><rect x="533.52" y="212.2" width="5" height="7.5" fill="#F23645"/><rect x="540.81" y="219.2" width="5" height="5.7" fill="#F23645"/><rect x="548.11" y="224.2" width="5" height="40.9" fill="#F23645"/><rect x="555.40" y="227.9" width="5" height="37.7" fill="#089981"/><rect x="562.70" y="227.9" width="5" height="10.0" fill="#F23645"/><rect x="569.99" y="237.3" width="5" height="1.2" fill="#F23645"/><rect x="577.29" y="238.7" width="5" height="35.4" fill="#F23645"/><rect x="584.58" y="273.0" width="5" height="1.2" fill="#F23645"/><rect x="591.88" y="273.5" width="5" height="11.1" fill="#F23645"/><rect x="599.17" y="284.3" width="5" height="4.5" fill="#F23645"/><rect x="606.47" y="263.8" width="5" height="25.3" fill="#089981"/><rect x="613.76" y="263.8" width="5" height="4.8" fill="#F23645"/><rect x="621.05" y="268.2" width="5" height="11.7" fill="#F23645"/><rect x="628.35" y="274.5" width="5" height="5.4" fill="#089981"/><rect x="635.64" y="274.5" width="5" height="1.5" fill="#F23645"/><rect x="642.94" y="260.0" width="5" height="16.0" fill="#089981"/><rect x="650.23" y="237.5" width="5" height="23.2" fill="#089981"/><rect x="657.53" y="237.5" width="5" height="6.8" fill="#F23645"/><rect x="664.82" y="234.6" width="5" height="9.7" fill="#089981"/><rect x="672.12" y="221.1" width="5" height="14.2" fill="#089981"/><rect x="679.41" y="205.4" width="5" height="16.5" fill="#089981"/><rect x="686.71" y="201.7" width="5" height="4.5" fill="#089981"/><rect x="694.00" y="201.7" width="5" height="23.1" fill="#F23645"/><rect x="701.30" y="224.1" width="5" height="7.5" fill="#F23645"/><rect x="708.59" y="221.1" width="5" height="10.5" fill="#089981"/><rect x="715.89" y="210.3" width="5" height="11.6" fill="#089981"/><rect x="723.18" y="210.3" width="5" height="3.8" fill="#F23645"/><rect x="730.48" y="213.2" width="5" height="20.3" fill="#F23645"/><rect x="737.77" y="232.8" width="5" height="4.7" fill="#F23645"/><rect x="745.06" y="236.8" width="5" height="1.5" fill="#F23645"/><rect x="752.36" y="237.5" width="5" height="28.9" fill="#F23645"/><rect x="759.65" y="266.0" width="5" height="7.0" fill="#F23645"/><rect x="766.95" y="248.0" width="5" height="25.0" fill="#089981"/><rect x="774.24" y="248.0" width="5" height="44.9" fill="#F23645"/><rect x="781.54" y="282.4" width="5" height="10.5" fill="#089981"/><rect x="788.83" y="277.5" width="5" height="5.6" fill="#089981"/><rect x="796.13" y="261.9" width="5" height="16.0" fill="#089981"/><rect x="803.42" y="259.2" width="5" height="3.5" fill="#089981"/><rect x="810.72" y="259.2" width="5" height="8.2" fill="#F23645"/><rect x="818.01" y="242.5" width="5" height="25.0" fill="#089981"/><rect x="825.31" y="221.2" width="5" height="21.9" fill="#089981"/><rect x="832.60" y="221.1" width="5" height="1.2" fill="#089981"/><rect x="839.90" y="221.2" width="5" height="17.1" fill="#F23645"/><rect x="847.19" y="237.5" width="5" height="1.2" fill="#089981"/><rect x="854.49" y="233.9" width="5" height="4.4" fill="#089981"/><rect x="861.78" y="233.6" width="5" height="32.9" fill="#F23645"/><rect x="869.07" y="259.3" width="5" height="7.2" fill="#089981"/><rect x="876.37" y="259.3" width="5" height="18.4" fill="#F23645"/><rect x="883.66" y="277.2" width="5" height="104.7" fill="#F23645"/><rect x="890.96" y="378.5" width="5" height="3.7" fill="#089981"/><rect x="898.25" y="343.6" width="5" height="35.3" fill="#089981"/><rect x="905.55" y="325.4" width="5" height="18.7" fill="#089981"/><rect x="912.84" y="325.4" width="5" height="24.4" fill="#F23645"/><rect x="920.14" y="349.3" width="5" height="23.2" fill="#F23645"/><rect x="927.43" y="372.0" width="5" height="19.5" fill="#F23645"/><rect x="934.73" y="391.2" width="5" height="8.7" fill="#F23645"/><rect x="942.02" y="383.7" width="5" height="16.2" fill="#089981"/><rect x="949.32" y="377.0" width="5" height="7.5" fill="#089981"/><rect x="956.61" y="351.3" width="5" height="26.1" fill="#089981"/><rect x="963.91" y="351.3" width="5" height="18.2" fill="#F23645"/><rect x="971.20" y="369.1" width="5" height="13.9" fill="#F23645"/><rect x="978.50" y="375.9" width="5" height="7.1" fill="#089981"/><rect x="985.79" y="347.5" width="5" height="29.0" fill="#089981"/><rect x="993.08" y="326.9" width="5" height="21.2" fill="#089981"/><rect x="1000.38" y="314.9" width="5" height="12.8" fill="#089981"/><rect x="1007.67" y="314.9" width="5" height="4.2" fill="#F23645"/><rect x="1014.97" y="318.2" width="5" height="7.5" fill="#F23645"/><rect x="1022.26" y="325.1" width="5" height="13.5" fill="#F23645"/><rect x="1029.56" y="338.1" width="5" height="27.7" fill="#F23645"/><rect x="1036.85" y="347.5" width="5" height="18.3" fill="#089981"/><rect x="1044.15" y="347.5" width="5" height="1.5" fill="#F23645"/><rect x="1051.44" y="343.6" width="5" height="5.4" fill="#089981"/><rect x="1058.74" y="343.3" width="5" height="52.4" fill="#F23645"/><rect x="1066.03" y="395.1" width="5" height="25.9" fill="#F23645"/><rect x="1073.33" y="387.1" width="5" height="33.9" fill="#089981"/><rect x="1080.62" y="387.1" width="5" height="32.0" fill="#F23645"/><rect x="1087.92" y="394.1" width="5" height="25.0" fill="#089981"/><rect x="1095.21" y="394.1" width="5" height="7.5" fill="#F23645"/><rect x="1102.50" y="382.1" width="5" height="19.5" fill="#089981"/><rect x="1109.80" y="343.7" width="5" height="39.5" fill="#089981"/><rect x="1117.09" y="343.7" width="5" height="32.5" fill="#F23645"/><rect x="1124.39" y="375.4" width="5" height="1.5" fill="#F23645"/><rect x="1131.68" y="376.6" width="5" height="16.0" fill="#F23645"/><rect x="1138.98" y="392.2" width="5" height="19.8" fill="#F23645"/><rect x="1146.27" y="411.6" width="5" height="1.9" fill="#F23645"/><rect x="1153.57" y="412.8" width="5" height="6.3" fill="#F23645"/><rect x="1160.86" y="418.5" width="5" height="12.2" fill="#F23645"/><rect x="1168.16" y="417.6" width="5" height="13.1" fill="#089981"/><rect x="1175.45" y="417.6" width="5" height="26.9" fill="#F23645"/><rect x="1182.75" y="444.1" width="5" height="26.0" fill="#F23645"/><rect x="1190.04" y="469.8" width="5" height="12.7" fill="#F23645"/><rect x="1197.34" y="481.4" width="5" height="1.4" fill="#089981"/><rect x="1204.63" y="458.1" width="5" height="24.4" fill="#089981"/><rect x="1211.93" y="415.5" width="5" height="43.3" fill="#089981"/><rect x="1219.22" y="415.5" width="5" height="6.5" fill="#F23645"/><rect x="1226.51" y="416.5" width="5" height="5.5" fill="#089981"/><rect x="1233.81" y="416.5" width="5" height="5.5" fill="#F23645"/><rect x="1241.10" y="421.4" width="5" height="5.6" fill="#F23645"/><rect x="1248.40" y="421.4" width="5" height="5.6" fill="#089981"/><rect x="1255.69" y="421.4" width="5" height="11.6" fill="#F23645"/><rect x="1262.99" y="432.1" width="5" height="31.0" fill="#F23645"/><rect x="1270.28" y="433.2" width="5" height="29.9" fill="#089981"/><rect x="1277.58" y="422.4" width="5" height="11.5" fill="#089981"/><rect x="1284.87" y="422.4" width="5" height="24.7" fill="#F23645"/><rect x="1292.17" y="446.6" width="5" height="15.4" fill="#F23645"/><rect x="1299.46" y="460.8" width="5" height="1.2" fill="#F23645"/><rect x="1306.76" y="459.1" width="5" height="3.9" fill="#089981"/><rect x="1314.05" y="452.6" width="5" height="7.5" fill="#089981"/><rect x="1321.35" y="443.9" width="5" height="9.0" fill="#089981"/><rect x="1328.64" y="443.6" width="5" height="16.5" fill="#F23645"/><rect x="1335.94" y="459.2" width="5" height="2.7" fill="#F23645"/><rect x="1343.23" y="461.6" width="5" height="7.7" fill="#F23645"/><rect x="1350.52" y="464.1" width="5" height="5.2" fill="#089981"/><rect x="1357.82" y="464.1" width="5" height="11.2" fill="#F23645"/><rect x="1365.11" y="475.0" width="5" height="19.7" fill="#F23645"/><rect x="1372.41" y="487.0" width="5" height="7.7" fill="#089981"/><rect x="1379.70" y="487.0" width="5" height="15.7" fill="#F23645"/><rect x="1387.00" y="502.2" width="5" height="15.0" fill="#F23645"/><rect x="1394.29" y="491.4" width="5" height="25.8" fill="#089981"/><rect x="1401.59" y="485.8" width="5" height="5.9" fill="#089981"/><rect x="1408.88" y="485.8" width="5" height="3.3" fill="#F23645"/><rect x="1416.18" y="488.5" width="5" height="4.7" fill="#F23645"/><rect x="1423.47" y="492.5" width="5" height="8.5" fill="#F23645"/><rect x="1430.77" y="500.7" width="5" height="2.0" fill="#F23645"/><rect x="1438.06" y="502.2" width="5" height="8.2" fill="#F23645"/><rect x="1445.36" y="507.4" width="5" height="3.5" fill="#089981"/><rect x="1452.65" y="500.4" width="5" height="7.5" fill="#089981"/><rect x="1459.95" y="500.4" width="5" height="2.3" fill="#F23645"/><rect x="1467.24" y="502.2" width="5" height="3.7" fill="#F23645"/><rect x="1474.53" y="499.5" width="5" height="6.4" fill="#089981"/><rect x="1481.83" y="499.2" width="5" height="8.7" fill="#F23645"/><rect x="1489.12" y="498.5" width="5" height="9.4" fill="#089981"/><rect x="1496.42" y="468.1" width="5" height="30.8" fill="#089981"/><rect x="1503.71" y="465.6" width="5" height="4.0" fill="#089981"/><rect x="1511.01" y="447.7" width="5" height="17.9" fill="#089981"/><rect x="1518.30" y="385.7" width="5" height="62.5" fill="#089981"/><rect x="1525.60" y="385.7" width="5" height="12.0" fill="#F23645"/><rect x="1532.89" y="396.6" width="5" height="34.4" fill="#F23645"/><rect x="1540.19" y="430.3" width="5" height="10.4" fill="#F23645"/><rect x="1547.48" y="440.3" width="5" height="7.1" fill="#F23645"/><rect x="1554.78" y="446.7" width="5" height="1.8" fill="#F23645"/><rect x="1562.07" y="447.9" width="5" height="4.5" fill="#F23645"/><rect x="1569.37" y="451.9" width="5" height="5.3" fill="#F23645"/><rect x="1576.66" y="430.3" width="5" height="26.9" fill="#089981"/><rect x="1583.96" y="430.3" width="5" height="6.7" fill="#F23645"/><rect x="1591.25" y="436.2" width="5" height="14.7" fill="#F23645"/><rect x="1598.54" y="450.9" width="5" height="3.3" fill="#F23645"/><rect x="1605.84" y="453.4" width="5" height="2.0" fill="#F23645"/><rect x="1613.13" y="454.5" width="5" height="17.9" fill="#F23645"/><rect x="1620.43" y="470.4" width="5" height="2.5" fill="#F23645"/><rect x="1627.72" y="472.4" width="5" height="24.9" fill="#F23645"/><rect x="1635.02" y="495.9" width="5" height="1.4" fill="#089981"/></g>
<text class="ax" x="1688.6" y="44.9" textLength="45" lengthAdjust="spacingAndGlyphs">3.8000</text>
<text class="ax" x="1688.6" y="92.6" textLength="45" lengthAdjust="spacingAndGlyphs">3.6000</text>
<text class="ax" x="1688.6" y="140.4" textLength="45" lengthAdjust="spacingAndGlyphs">3.4000</text>
<text class="ax" x="1688.6" y="188.2" textLength="45" lengthAdjust="spacingAndGlyphs">3.2000</text>
<text class="ax" x="1688.6" y="236.0" textLength="45" lengthAdjust="spacingAndGlyphs">3.0000</text>
<text class="ax" x="1688.6" y="283.8" textLength="45" lengthAdjust="spacingAndGlyphs">2.8000</text>
<text class="ax" x="1688.6" y="331.6" textLength="45" lengthAdjust="spacingAndGlyphs">2.6000</text>
<text class="ax" x="1688.6" y="379.4" textLength="45" lengthAdjust="spacingAndGlyphs">2.4000</text>
<text class="ax" x="1688.6" y="427.2" textLength="45" lengthAdjust="spacingAndGlyphs">2.2000</text>
<text class="ax" x="1688.6" y="475.0" textLength="45" lengthAdjust="spacingAndGlyphs">2.0000</text>
<text class="ax" x="1688.6" y="522.8" textLength="45" lengthAdjust="spacingAndGlyphs">1.8000</text>
<text class="ax" x="1688.6" y="570.5" textLength="45" lengthAdjust="spacingAndGlyphs">1.6000</text>
<text class="ax" x="1688.6" y="618.3" textLength="45" lengthAdjust="spacingAndGlyphs">1.4000</text>
<text class="ax" x="1688.6" y="666.1" textLength="45" lengthAdjust="spacingAndGlyphs">1.2000</text>
<path d="M1679,302.65 H1736.7 Q1739.2,302.65 1739.2,305.15 V320.05 Q1739.2,322.55 1736.7,322.55 H1679 Z" fill="#F23645"/>
<text class="lb" x="1689.4" y="317.8" textLength="44.6" lengthAdjust="spacingAndGlyphs">2.6559</text>
<path d="M1679,375.30 H1736.7 Q1739.2,375.30 1739.2,377.80 V392.70 Q1739.2,395.20 1736.7,395.20 H1679 Z" fill="#F23645"/>
<text class="lb" x="1689.4" y="390.4" textLength="44.6" lengthAdjust="spacingAndGlyphs">2.3508</text>
<path d="M1679,460.20 H1736.7 Q1739.2,460.20 1739.2,462.70 V477.60 Q1739.2,480.10 1736.7,480.10 H1679 Z" fill="#F23645"/>
<text class="lb" x="1689.4" y="475.3" textLength="44.6" lengthAdjust="spacingAndGlyphs">2.0000</text>
<path d="M1679,486.65 H1736.7 Q1739.2,486.65 1739.2,489.15 V504.05 Q1739.2,506.55 1736.7,506.55 H1679 Z" fill="#089981"/>
<text class="lb" x="1689.4" y="501.8" textLength="44.6" lengthAdjust="spacingAndGlyphs">1.8903</text>
<path d="M1679,508.05 H1736.7 Q1739.2,508.05 1739.2,510.55 V525.45 Q1739.2,527.95 1736.7,527.95 H1679 Z" fill="#089981"/>
<text class="lb" x="1689.4" y="523.2" textLength="44.6" lengthAdjust="spacingAndGlyphs">1.8000</text>
<text class="ax" x="139.4" y="727.5" textLength="19.5" lengthAdjust="spacingAndGlyphs">Jul</text>
<text class="ax" x="363.3" y="727.5" textLength="24" lengthAdjust="spacingAndGlyphs">Aug</text>
<text class="ax" x="589.4" y="727.5" textLength="24" lengthAdjust="spacingAndGlyphs">Sep</text>
<text class="ax" x="808.2" y="727.5" textLength="23.5" lengthAdjust="spacingAndGlyphs">Oct</text>
<text class="ax" x="1033.5" y="727.5" textLength="25.5" lengthAdjust="spacingAndGlyphs">Nov</text>
<text class="ax" x="1252.7" y="727.5" textLength="24" lengthAdjust="spacingAndGlyphs">Dec</text>
<text class="ax" x="1474.1" y="727.5" textLength="34" lengthAdjust="spacingAndGlyphs" font-weight="bold">2026</text>
<text class="lg" x="14.2" y="26.6" textLength="24.2" lengthAdjust="spacingAndGlyphs" style="fill:#222222">XRP</text>
<text class="lg" x="45.6" y="26.6">/</text>
<text class="lg" x="56.4" y="26.6" textLength="57.6" lengthAdjust="spacingAndGlyphs" style="fill:#222222">TetherUS</text>
<text class="lg" x="117.8" y="26.6" textLength="4.6" lengthAdjust="spacingAndGlyphs" style="fill:#222222">·</text>
<text class="lg" x="127.8" y="26.6" textLength="16.2" lengthAdjust="spacingAndGlyphs" style="fill:#222222">1D</text>
<text class="lg" x="148.7" y="26.6" textLength="4.6" lengthAdjust="spacingAndGlyphs" style="fill:#222222">·</text>
<text class="lg" x="158.4" y="26.6" textLength="51.2" lengthAdjust="spacingAndGlyphs" style="fill:#222222">Binance</text>
<text class="lg" x="218.2" y="26.6" textLength="10.6" lengthAdjust="spacingAndGlyphs" style="fill:#222222">O</text>
<text class="lg" x="230.3" y="26.6" textLength="42.6" lengthAdjust="spacingAndGlyphs" style="fill:#089981">1.8900</text>
<text class="lg" x="280.3" y="26.6" textLength="10.0" lengthAdjust="spacingAndGlyphs" style="fill:#222222">H</text>
<text class="lg" x="291.4" y="26.6" textLength="42.6" lengthAdjust="spacingAndGlyphs" style="fill:#089981">1.9268</text>
<text class="lg" x="342.4" y="26.6" textLength="7.4" lengthAdjust="spacingAndGlyphs" style="fill:#222222">L</text>
<text class="lg" x="351.09999999999997" y="26.6" textLength="42.6" lengthAdjust="spacingAndGlyphs" style="fill:#089981">1.8798</text>
<text class="lg" x="401.7" y="26.6" textLength="9.8" lengthAdjust="spacingAndGlyphs" style="fill:#222222">C</text>
<text class="lg" x="412.29999999999995" y="26.6" textLength="42.6" lengthAdjust="spacingAndGlyphs" style="fill:#089981">1.8903</text>
<text class="lg" x="464.0" y="26.6" textLength="110.8" lengthAdjust="spacingAndGlyphs" style="fill:#089981">+0.0003 (+0.02%)</text>
<text class="lg" x="14.0" y="46.8" textLength="27.8" lengthAdjust="spacingAndGlyphs" style="fill:#222222">EMA</text>
<text class="lg" x="49.2" y="46.8" textLength="44" lengthAdjust="spacingAndGlyphs" style="fill:#F23645">2.0564</text>
<text class="lg" x="14.0" y="67.2" textLength="27.8" lengthAdjust="spacingAndGlyphs" style="fill:#222222">EMA</text>
<text class="lg" x="49.2" y="67.2" textLength="44" lengthAdjust="spacingAndGlyphs" style="fill:#2962FF">2.3063</text>
<g fill="#141414">
<path d="M7,766 H21.4 V784 H13.8 V773 H7 Z"/>
<circle cx="27.4" cy="769.5" r="3.5"/>
<path d="M34.6,766 H43 L36.5,784 H27.9 Z"/>
</g>
<text x="51.5" y="784" style="font-size:25px;font-weight:bold;fill:#141414" textLength="147.5" lengthAdjust="spacing">TradingView</text>
</svg></body></html>
